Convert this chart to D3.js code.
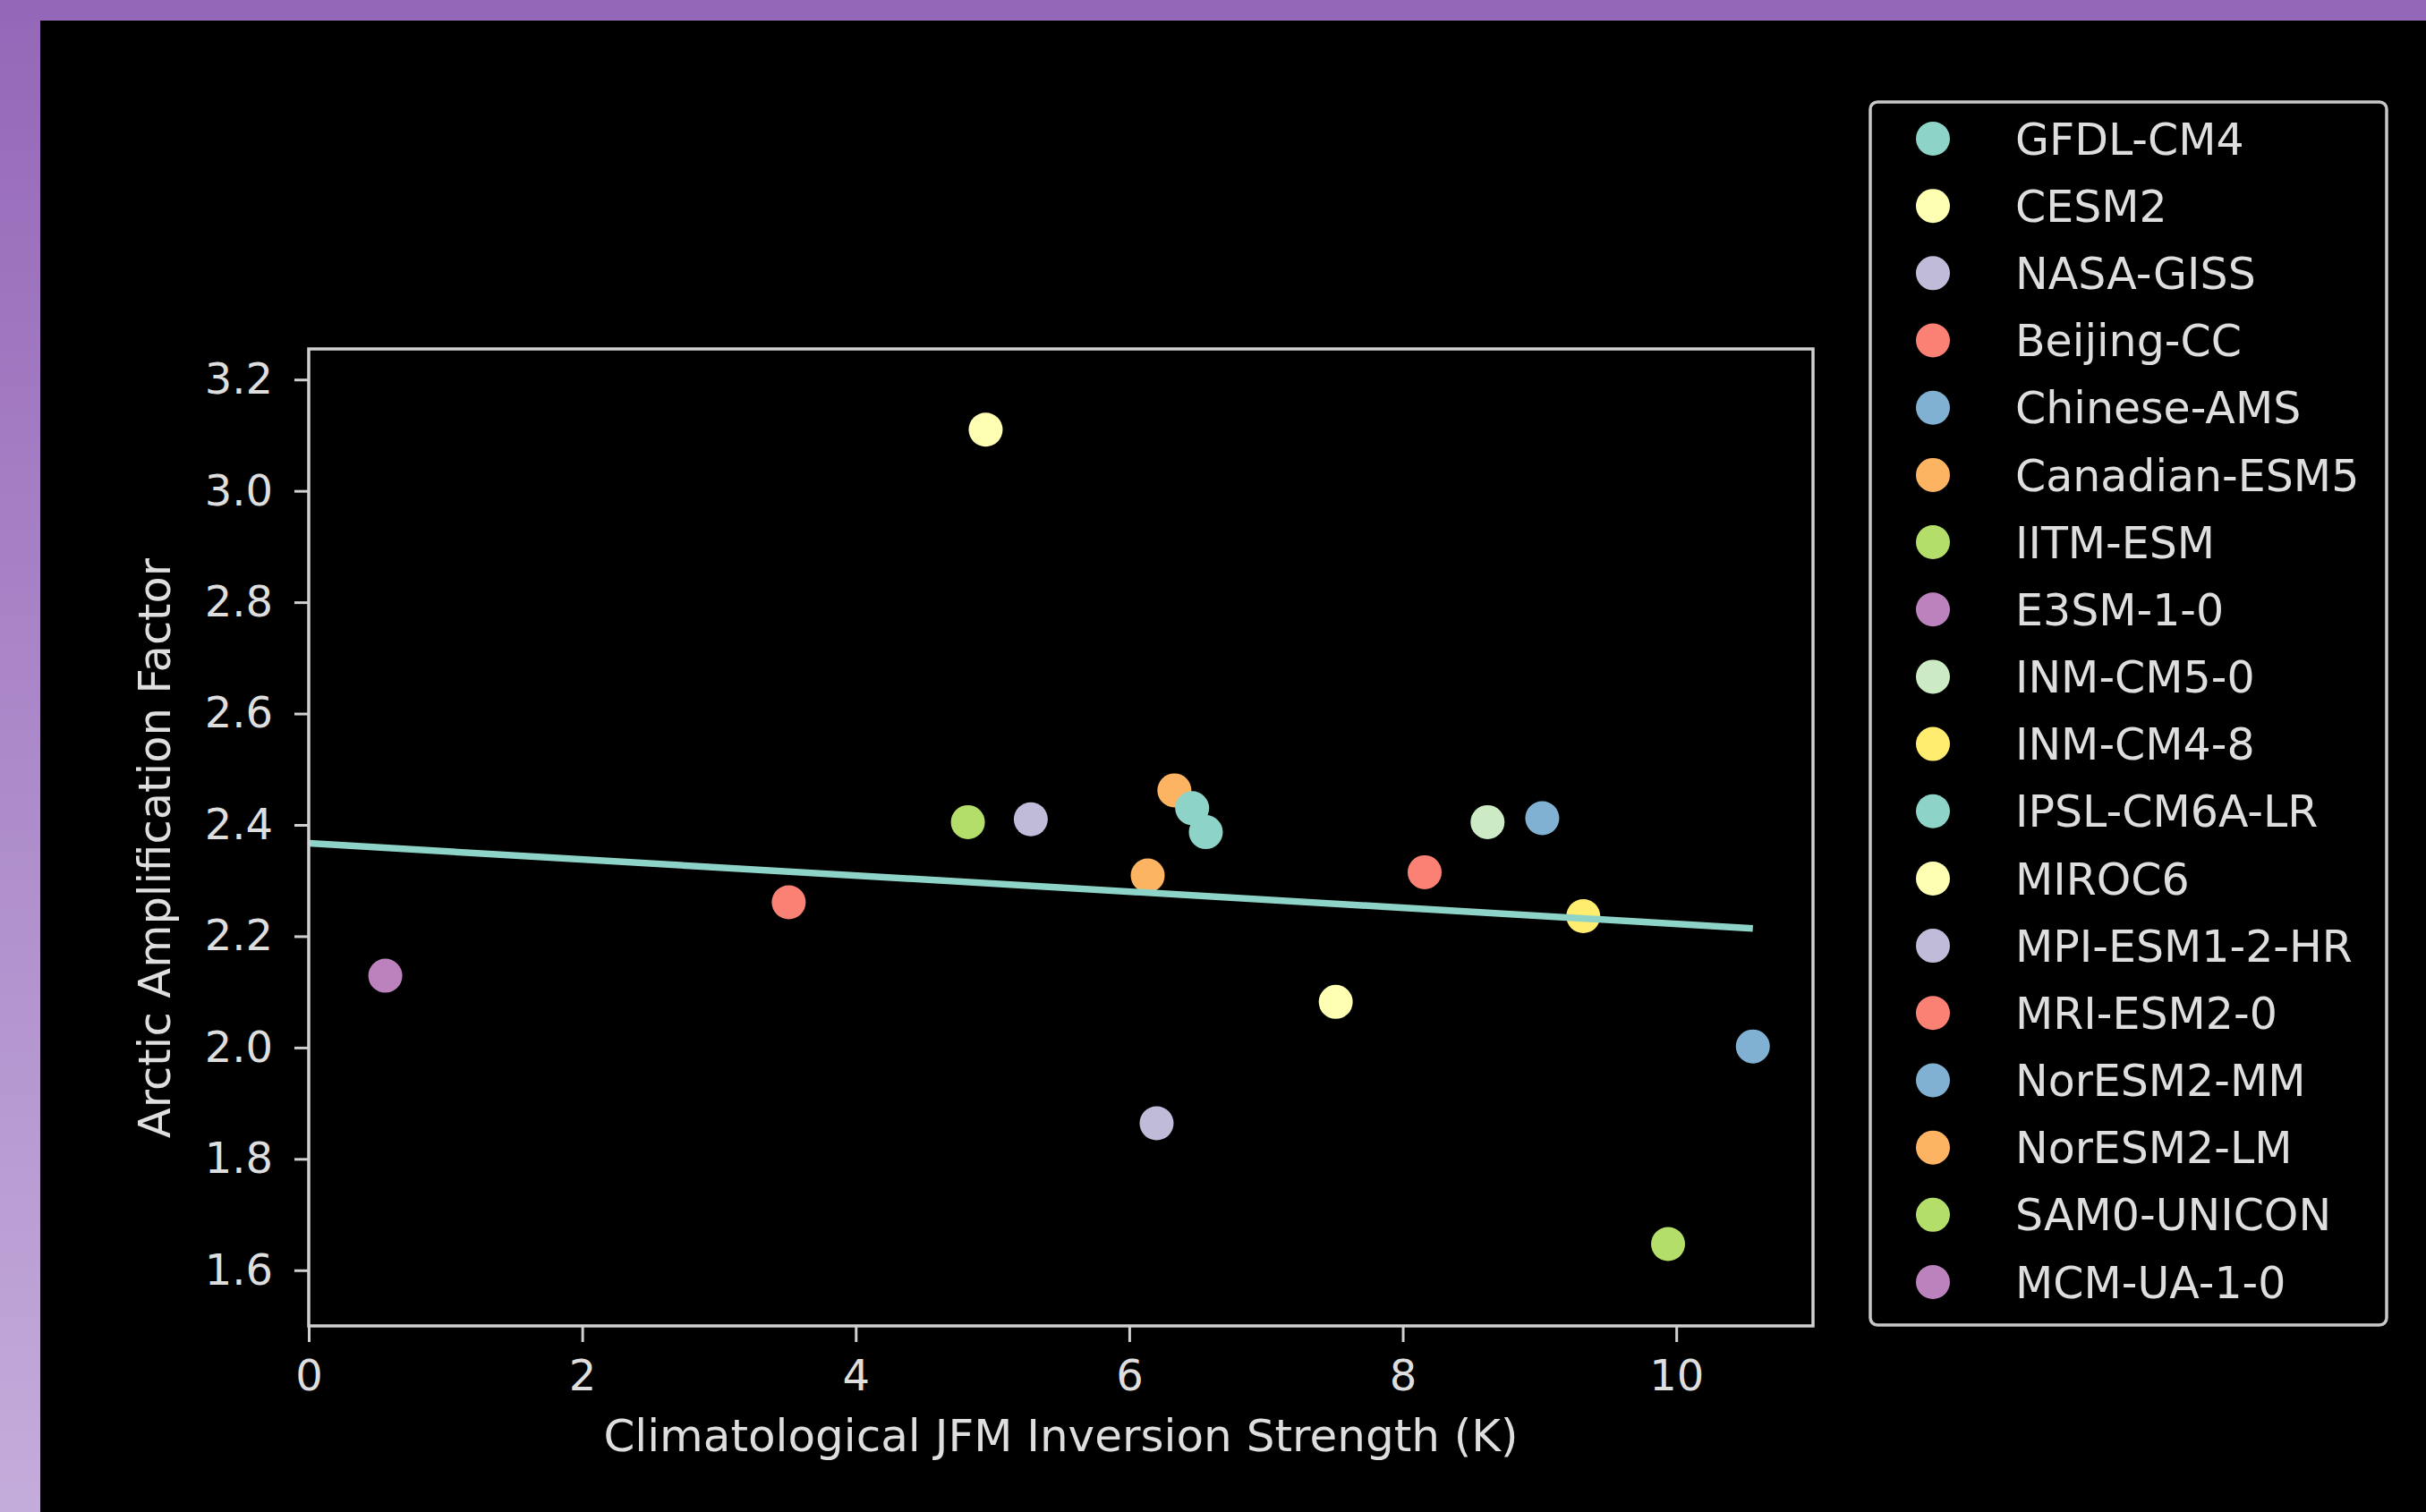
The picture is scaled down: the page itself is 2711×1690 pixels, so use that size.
<!DOCTYPE html>
<html>
<head>
<meta charset="utf-8">
<script src="https://cdn.jsdelivr.net/npm/d3@7"></script>
<style>
  html, body { margin: 0; padding: 0; background: #000; overflow: hidden; }
  text { font-family: "DejaVu Sans", sans-serif; }
</style>
</head>
<body>
<div id="viz"></div>
<script>
// model names, in legend order
const models = [
  "GFDL-CM4", "CESM2", "NASA-GISS", "Beijing-CC", "Chinese-AMS", "Canadian-ESM5",
  "IITM-ESM", "E3SM-1-0", "INM-CM5-0", "INM-CM4-8", "IPSL-CM6A-LR", "MIROC6",
  "MPI-ESM1-2-HR", "MRI-ESM2-0", "NorESM2-MM", "NorESM2-LM", "SAM0-UNICON", "MCM-UA-1-0"
]

// climatological JFM inversion strength (K), null = not plotted
const inversion = [
  6.56, 4.95, 5.28, 3.51, 9.02, 6.33,
  4.82, null, 8.62, 9.32, 6.46, 7.51,
  6.20, 8.16, 10.56, 6.135, 9.94, 0.56
]

// arctic amplification factor
const amplification = [
  2.387, 3.11, 2.41, 2.261, 2.412, 2.462,
  2.405, null, 2.405, 2.236, 2.43, 2.082,
  1.864, 2.315, 2.002, 2.309, 1.647, 2.129
]

// fitted line end points
const fitX = [0, 10.56]
const fitY = [2.367, 2.214]

const xTicks = [0, 2, 4, 6, 8, 10]
const yTicks = [1.6, 1.8, 2.0, 2.2, 2.4, 2.6, 2.8, 3.0, 3.2]

// matplotlib dark_background colour cycle
const colorCycle = [
  "#8dd3c7", "#feffb3", "#bfbbd9", "#fa8174", "#81b1d2",
  "#fdb462", "#b3de69", "#bc82bd", "#ccebc4", "#ffed6f"
]

const W = 2711, H = 1690
const fg = "#dedede"
const spine = "#d0d0d0"

const svg = d3.select("#viz").append("svg").attr("width", W).attr("height", H)

// purple frame behind the black slide
const defs = svg.append("defs")
const grad = defs.append("linearGradient").attr("id", "frame")
  .attr("x1", 0).attr("y1", 0).attr("x2", 0).attr("y2", 1)
grad.append("stop").attr("offset", "0%").attr("stop-color", "#9567b8")
grad.append("stop").attr("offset", "100%").attr("stop-color", "#c4acdb")

svg.append("rect").attr("width", W).attr("height", H).attr("fill", "url(#frame)")
svg.append("rect").attr("x", 0).attr("y", 0).attr("width", W).attr("height", 23).attr("fill", "#9567b8")
svg.append("rect").attr("x", 45).attr("y", 23).attr("width", W - 45).attr("height", H - 23).attr("fill", "#000")

// plot area
const plot = { left: 345, right: 2026, top: 390, bottom: 1482 }

const x = d3.scaleLinear().domain([0, 11]).range([plot.left, plot.right])
const y = d3.scaleLinear().domain([1.5, 3.255]).range([plot.bottom, plot.top])

const color = (i) => colorCycle[i % colorCycle.length]

// axes
const xAxis = svg.append("g")
  .attr("transform", `translate(0, ${plot.bottom})`)
  .call(d3.axisBottom(x).tickValues(xTicks).tickSize(18).tickPadding(20).tickFormat(d3.format("d")))
xAxis.select(".domain").remove()
xAxis.selectAll("line").attr("stroke", spine).attr("stroke-width", 3)
xAxis.selectAll("text").attr("fill", fg).attr("font-size", 48).attr("font-family", "DejaVu Sans")

const yAxis = svg.append("g")
  .attr("transform", `translate(${plot.left}, 0)`)
  .call(d3.axisLeft(y).tickValues(yTicks).tickSize(16).tickPadding(24).tickFormat(d3.format(".1f")))
yAxis.select(".domain").remove()
yAxis.selectAll("line").attr("stroke", spine).attr("stroke-width", 3)
yAxis.selectAll("text").attr("fill", fg).attr("font-size", 48).attr("font-family", "DejaVu Sans")

// scatter points
const points = models.map((m, i) => ({ name: m, x: inversion[i], y: amplification[i], i: i }))
  .filter(d => d.x != null && d.y != null)

svg.selectAll(".pt")
  .data(points)
  .enter()
  .append("circle")
  .attr("class", "pt")
  .attr("cx", d => x(d.x))
  .attr("cy", d => y(d.y))
  .attr("r", 19)
  .attr("fill", d => color(d.i))

// fit line
const line = d3.line().x(d => x(d[0])).y(d => y(d[1]))
svg.append("path")
  .attr("d", line(fitX.map((v, i) => [v, fitY[i]])))
  .attr("fill", "none")
  .attr("stroke", colorCycle[0])
  .attr("stroke-width", 7.5)

// spines
svg.append("rect")
  .attr("x", plot.left).attr("y", plot.top)
  .attr("width", plot.right - plot.left).attr("height", plot.bottom - plot.top)
  .attr("fill", "none").attr("stroke", spine).attr("stroke-width", 3.5)

// axis labels
svg.append("text")
  .attr("x", (plot.left + plot.right) / 2)
  .attr("y", 1622)
  .attr("text-anchor", "middle")
  .attr("fill", fg)
  .attr("font-size", 50)
  .text("Climatological JFM Inversion Strength (K)")

svg.append("text")
  .attr("transform", `translate(190, ${(plot.top + plot.bottom) / 2 + 12}) rotate(-90)`)
  .attr("text-anchor", "middle")
  .attr("fill", fg)
  .attr("font-size", 49.5)
  .text("Arctic Amplification Factor")

// legend
const legend = svg.append("g")
legend.append("rect")
  .attr("x", 2090).attr("y", 114)
  .attr("width", 2667 - 2090).attr("height", 1481 - 114)
  .attr("rx", 8)
  .attr("fill", "#000")
  .attr("stroke", "#c8c8c8")
  .attr("stroke-width", 3.5)

const rowY = d3.scaleLinear().domain([0, models.length - 1]).range([155, 1433])

const rows = legend.selectAll(".row")
  .data(models)
  .enter()
  .append("g")
  .attr("class", "row")
  .attr("transform", (d, i) => `translate(0, ${rowY(i)})`)

rows.append("circle")
  .attr("cx", 2160)
  .attr("cy", 0)
  .attr("r", 19)
  .attr("fill", (d, i) => color(i))

rows.append("text")
  .attr("x", 2252)
  .attr("y", 0)
  .attr("dy", "0.36em")
  .attr("fill", fg)
  .attr("font-size", 49)
  .text(d => d)
</script>
</body>
</html>
